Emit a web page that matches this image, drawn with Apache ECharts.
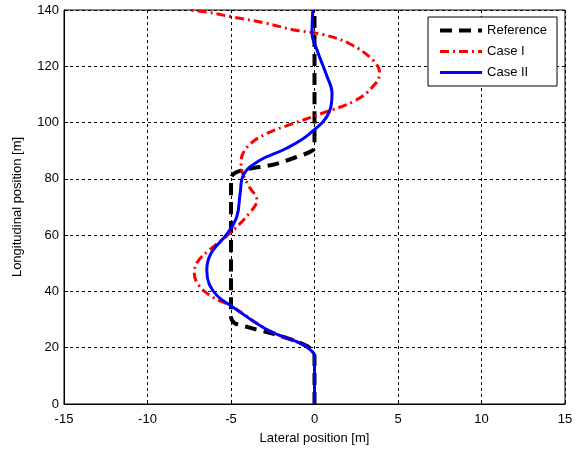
<!DOCTYPE html>
<html>
<head>
<meta charset="utf-8">
<script src="https://cdn.jsdelivr.net/npm/echarts@6/dist/echarts.min.js"></script>
<style>
  html, body { margin: 0; padding: 0; background: #fff; }
  #main { width: 588px; height: 454px; }
</style>
</head>
<body>
<div id="main"></div>
<script>
// [lateral, longitudinal] pairs
const referencePath = [
    [0, 0], [0, 17], [-0.3, 20], [-1.2, 22.5], [-2.5, 25], [-4, 27.3], [-4.8, 28.8], [-5, 31],
    [-5, 80], [-4.8, 82], [-4, 83.5], [-2.5, 85], [-1.2, 87.5], [-0.3, 89.5], [0, 91], [0, 140]
];
const caseOnePath = [
    [0, 0], [0, 17], [-0.3, 19.5], [-0.9, 21.7], [-2.8, 26.3], [-4.9, 34.5], [-6.1, 38],
    [-6.9, 42], [-7.2, 46.5], [-7, 50.5], [-6.3, 54.7], [-5.1, 60.5], [-3.9, 67.8], [-3.45, 72.5],
    [-3.9, 77.1], [-4.3, 82], [-4.4, 86], [-4, 91.5], [-2.9, 96], [-1.3, 99.6], [0.5, 103.4],
    [2.5, 108], [3.6, 113.5], [3.9, 117.6], [3.5, 122.2], [2.1, 128], [0.5, 131.3], [-1.3, 133],
    [-2.9, 135.3], [-4.9, 137.5], [-6.4, 139.2], [-7.6, 140]
];
const caseTwoPath = [
    [0, 0], [0, 17], [-0.3, 19.5], [-0.9, 21.7], [-2.8, 26.3], [-4.9, 34.5], [-5.8, 38.3],
    [-6.3, 42.5], [-6.45, 47.5], [-6.2, 53.5], [-5.2, 60.7], [-4.65, 66.6], [-4.45, 75],
    [-4.25, 81.5], [-3.3, 86.5], [-1.7, 90.8], [-0.3, 96], [0.9, 104], [1.05, 110.5],
    [0.75, 116.4], [0.15, 125.8], [-0.15, 131.8], [-0.1, 140]
];
const xTicks = [-15, -10, -5, 0, 5, 10, 15];
const yTicks = [0, 20, 40, 60, 80, 100, 120, 140];

const font = 'Liberation Sans, Arial, sans-serif';

const chart = echarts.init(document.getElementById('main'));

const gridLine = { show: true, lineStyle: { color: '#000', type: [3, 3], width: 1 } };

const option = {
    animation: false,
    backgroundColor: '#fff',
    grid: { left: 64, right: 23, top: 10, bottom: 50, show: true, borderColor: '#000', borderWidth: 1 },
    legend: {
        orient: 'vertical',
        right: 31,
        top: 17,
        itemWidth: 42,
        itemHeight: 14,
        itemGap: 8,
        padding: [7, 10, 7, 10],
        borderColor: '#000',
        borderWidth: 1,
        backgroundColor: '#fff',
        itemStyle: { opacity: 0 },
        textStyle: { fontFamily: font, fontSize: 13, color: '#000' },
        data: [
            { name: 'Reference', lineStyle: { width: 4 } },
            { name: 'Case I', lineStyle: { width: 3 } },
            { name: 'Case II', lineStyle: { width: 3 } }
        ]
    },
    xAxis: {
        type: 'value',
        min: xTicks[0],
        max: xTicks[xTicks.length - 1],
        interval: 5,
        name: 'Lateral position [m]',
        nameLocation: 'middle',
        nameGap: 28,
        nameTextStyle: { fontFamily: font, fontSize: 13, color: '#000' },
        axisLine: { onZero: false, lineStyle: { color: '#000' } },
        axisTick: { inside: true, length: 4, lineStyle: { color: '#000' } },
        axisLabel: { fontFamily: font, fontSize: 13, color: '#000', margin: 9 },
        splitLine: gridLine
    },
    yAxis: {
        type: 'value',
        min: yTicks[0],
        max: yTicks[yTicks.length - 1],
        interval: 20,
        name: 'Longitudinal position [m]',
        nameLocation: 'middle',
        nameGap: 40,
        nameTextStyle: { fontFamily: font, fontSize: 13, color: '#000' },
        axisLine: { onZero: false, lineStyle: { color: '#000' } },
        axisTick: { inside: true, length: 4, lineStyle: { color: '#000' } },
        axisLabel: { fontFamily: font, fontSize: 13, color: '#000', margin: 5 },
        splitLine: gridLine
    },
    series: [
        {
            name: 'Reference', type: 'line', symbol: 'none', smooth: 0.3,
            data: referencePath,
            lineStyle: { color: '#000', width: 4, type: [12, 7] },
            itemStyle: { color: '#000' }
        },
        {
            name: 'Case I', type: 'line', symbol: 'none', smooth: 0.4,
            data: caseOnePath,
            lineStyle: { color: '#ff0000', width: 3, type: [9, 4, 2, 4] },
            itemStyle: { color: '#ff0000' }
        },
        {
            name: 'Case II', type: 'line', symbol: 'none', smooth: 0.4,
            data: caseTwoPath,
            lineStyle: { color: '#0000ff', width: 3 },
            itemStyle: { color: '#0000ff' }
        }
    ]
};

chart.setOption(option);
</script>
</body>
</html>
